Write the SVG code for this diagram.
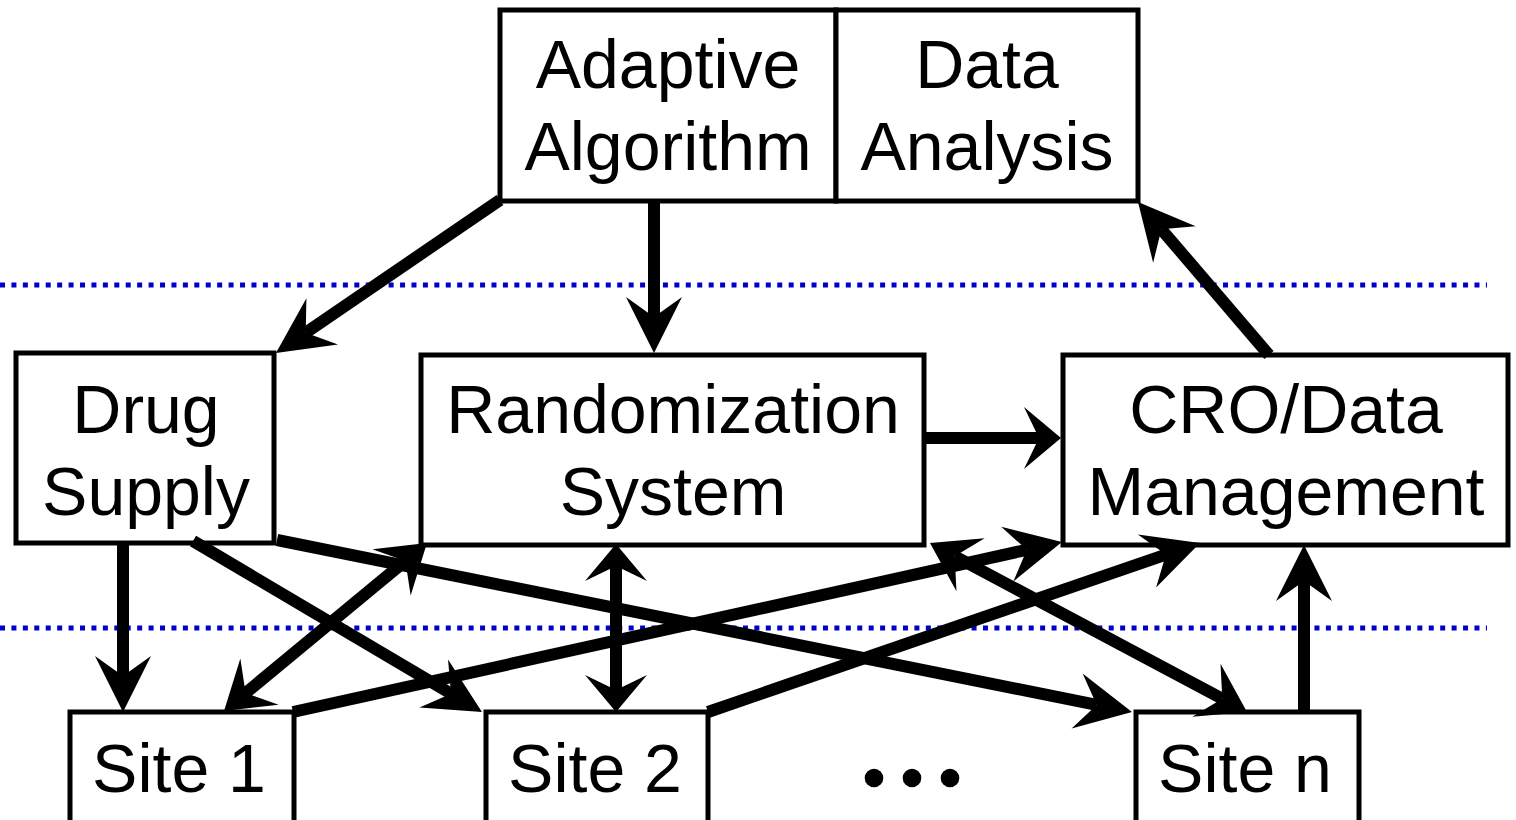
<svg xmlns="http://www.w3.org/2000/svg" width="1516" height="820" viewBox="0 0 1516 820">
  <style>
    .box { fill: #ffffff; stroke: #000000; stroke-width: 5; }
    .lbl { font-family: "Liberation Sans", Arial, sans-serif; font-size: 68px; fill: #000000; text-anchor: middle; }
    .sep { stroke: #0000cc; stroke-width: 5; stroke-dasharray: 5 6.43; fill: none; }
    .arr { stroke: #000000; stroke-width: 12; fill: none; stroke-linecap: butt; }
    .long { marker-end: url(#headL); }
    .mid2 { marker-start: url(#headM); marker-end: url(#headM); }
    .short { marker-end: url(#headS); }
    .short2 { marker-start: url(#headS); marker-end: url(#headS); }
  </style>
  <defs>
    <!-- notched arrowheads; origin sits at the notch, the tip points along +x -->
    <marker id="headL" markerUnits="userSpaceOnUse" orient="auto-start-reverse" refX="0" refY="0" markerWidth="120" markerHeight="120" overflow="visible">
      <path d="M36,0 L-20,-28 L0,0 L-20,28 Z" fill="#000000"/>
    </marker>
    <marker id="headM" markerUnits="userSpaceOnUse" orient="auto-start-reverse" refX="0" refY="0" markerWidth="120" markerHeight="120" overflow="visible">
      <path d="M28,0 L-18,-30 L0,0 L-18,30 Z" fill="#000000"/>
    </marker>
    <marker id="headS" markerUnits="userSpaceOnUse" orient="auto-start-reverse" refX="0" refY="0" markerWidth="120" markerHeight="120" overflow="visible">
      <path d="M22,0 L-15,-31 L0,0 L-15,31 Z" fill="#000000"/>
    </marker>
  </defs>

  <rect width="1516" height="820" fill="#ffffff"/>

  <!-- tier separators -->
  <g id="separators">
    <line class="sep" x1="0" y1="285" x2="1487" y2="285"/>
    <line class="sep" x1="0" y1="628" x2="1487" y2="628"/>
  </g>

  <!-- nodes -->
  <g id="adaptive-algorithm">
    <rect class="box" x="500" y="10" width="336" height="191"/>
    <text class="lbl" x="668" y="88">Adaptive</text>
    <text class="lbl" x="668" y="170">Algorithm</text>
  </g>
  <g id="data-analysis">
    <rect class="box" x="836" y="10" width="302" height="191"/>
    <text class="lbl" x="987" y="88">Data</text>
    <text class="lbl" x="987" y="170">Analysis</text>
  </g>
  <g id="drug-supply">
    <rect class="box" x="16" y="353" width="258" height="190"/>
    <text class="lbl" x="146" y="433">Drug</text>
    <text class="lbl" x="146" y="515">Supply</text>
  </g>
  <g id="randomization-system">
    <rect class="box" x="421" y="355" width="503" height="190"/>
    <text class="lbl" x="673" y="433">Randomization</text>
    <text class="lbl" x="673" y="515">System</text>
  </g>
  <g id="cro-data-management">
    <rect class="box" x="1063" y="355" width="445" height="190"/>
    <text class="lbl" x="1286" y="433">CRO/Data</text>
    <text class="lbl" x="1286" y="515">Management</text>
  </g>
  <g id="site-1">
    <rect class="box" x="70" y="712" width="224" height="120"/>
    <text class="lbl" x="179" y="792">Site 1</text>
  </g>
  <g id="site-2">
    <rect class="box" x="486" y="712" width="222" height="120"/>
    <text class="lbl" x="595" y="792">Site 2</text>
  </g>
  <g id="ellipsis">
    <circle cx="874" cy="778" r="9.3" fill="#000000"/>
    <circle cx="912" cy="778" r="9.3" fill="#000000"/>
    <circle cx="950" cy="778" r="9.3" fill="#000000"/>
  </g>
  <g id="site-n">
    <rect class="box" x="1136" y="712" width="223" height="120"/>
    <text class="lbl" x="1245" y="792">Site n</text>
  </g>

  <!-- connectors -->
  <g id="connectors">
    <line class="arr long" x1="500" y1="200" x2="305.7" y2="332.7"/>
    <line class="arr long" x1="654" y1="202" x2="654" y2="317"/>
    <line class="arr long" x1="1269" y1="355" x2="1161.4" y2="229.3"/>
    <line class="arr short" x1="924" y1="438" x2="1039" y2="438"/>
    <line class="arr long" x1="123" y1="543" x2="123" y2="676"/>
    <line class="arr long" x1="193" y1="541" x2="451" y2="693.7"/>
    <line class="arr long" x1="277" y1="540" x2="1096.7" y2="704.9"/>
    <line class="arr mid2" x1="245.6" y1="693.1" x2="405.4" y2="560.9"/>
    <line class="arr long" x1="293" y1="712" x2="1026.8" y2="549.8"/>
    <line class="arr short2" x1="616" y1="566" x2="616" y2="690"/>
    <line class="arr long" x1="708" y1="712" x2="1165.9" y2="554.6"/>
    <line class="arr mid2" x1="954.7" y1="556.2" x2="1222.3" y2="698.8"/>
    <line class="arr long" x1="1304" y1="712" x2="1304" y2="581"/>
  </g>
</svg>
